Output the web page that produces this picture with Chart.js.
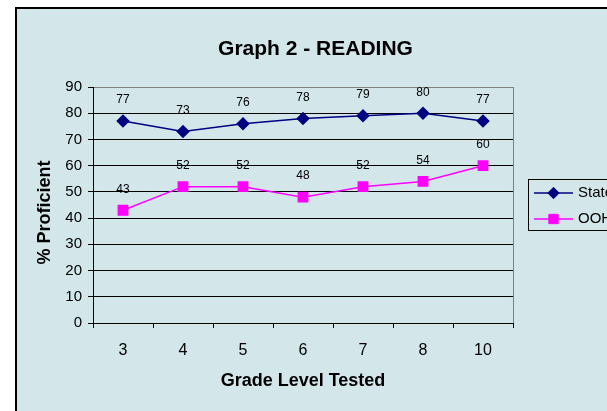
<!DOCTYPE html>
<html>
<head>
<meta charset="utf-8">
<script src="https://cdn.jsdelivr.net/npm/chart.js@4/dist/chart.umd.min.js"></script>
<style>
  html, body { margin: 0; padding: 0; background: #ffffff; overflow: hidden; }
  #wrap { position: absolute; left: 0; top: 0; width: 607px; height: 411px; }
</style>
</head>
<body>
<div id="wrap"><canvas id="c" width="607" height="411"></canvas></div>
<script>
const titleText = "Graph 2 - READING";
const xTitle = "Grade Level Tested";
const yTitle = "% Proficient";
const categories = ["3", "4", "5", "6", "7", "8", "10"];
const stateValues = [77, 73, 76, 78, 79, 80, 77];
const oohValues = [43, 52, 52, 48, 52, 54, 60];
const seriesNames = ["State", "OOH"];

const BG = "#d3e7eb";
const NAVY = "#000080";
const MAGENTA = "#ff00ff";
const FONT = "'Liberation Sans', Arial, sans-serif";

const framePlugin = {
  id: "frame",
  beforeDraw(chart) {
    const ctx = chart.ctx;
    ctx.save();
    ctx.fillStyle = "#ffffff";
    ctx.fillRect(0, 0, chart.width, chart.height);
    ctx.fillStyle = BG;
    ctx.fillRect(15, 7, chart.width, chart.height);
    ctx.strokeStyle = "#000000";
    ctx.lineWidth = 2;
    ctx.beginPath();
    ctx.moveTo(16, chart.height + 5);
    ctx.lineTo(16, 8);
    ctx.lineTo(chart.width + 5, 8);
    ctx.stroke();
    // chart title
    ctx.fillStyle = "#000000";
    ctx.font = "bold 21px " + FONT;
    ctx.textAlign = "center";
    ctx.textBaseline = "alphabetic";
    ctx.fillText(titleText, 315.5, 55);
    // y axis title
    ctx.save();
    ctx.translate(45.5, 212.5);
    ctx.rotate(-Math.PI / 2);
    ctx.font = "bold 18px " + FONT;
    ctx.textAlign = "center";
    ctx.textBaseline = "middle";
    ctx.fillText(yTitle, 0, 0);
    ctx.restore();
    ctx.restore();
  },
  beforeDatasetsDraw(chart) {
    const ctx = chart.ctx;
    const a = chart.chartArea;
    ctx.save();
    ctx.strokeStyle = "#808080";
    ctx.lineWidth = 1;
    ctx.beginPath();
    ctx.moveTo(Math.round(a.right) + 0.5, a.bottom);
    ctx.lineTo(Math.round(a.right) + 0.5, a.top);
    ctx.stroke();
    ctx.restore();
  },
  afterDatasetsDraw(chart) {
    const ctx = chart.ctx;
    ctx.save();
    ctx.fillStyle = "#000000";
    ctx.font = "12px " + FONT;
    ctx.textAlign = "center";
    ctx.textBaseline = "middle";
    chart.data.datasets.forEach((ds, i) => {
      const meta = chart.getDatasetMeta(i);
      meta.data.forEach((pt, j) => {
        ctx.fillText(String(ds.data[j]), pt.x, pt.y - 21);
      });
    });
    ctx.restore();
  },
  afterDraw(chart) {
    // legend
    const ctx = chart.ctx;
    ctx.save();
    ctx.fillStyle = BG;
    ctx.fillRect(528.5, 179.5, 120, 51);
    ctx.strokeStyle = "#000000";
    ctx.lineWidth = 1;
    ctx.strokeRect(528.5, 179.5, 120, 51);
    const rows = [193, 219];
    chart.data.datasets.forEach((ds, i) => {
      const y = rows[i];
      ctx.strokeStyle = ds.borderColor;
      ctx.lineWidth = 1.5;
      ctx.beginPath();
      ctx.moveTo(534, y);
      ctx.lineTo(573, y);
      ctx.stroke();
      ctx.fillStyle = ds.pointBackgroundColor;
      ctx.strokeStyle = ds.pointBorderColor;
      ctx.lineWidth = 1;
      Chart.helpers.drawPoint(ctx, {
        pointStyle: ds.pointStyle,
        radius: ds.pointRadius,
        borderWidth: 1
      }, 553.5, y);
      ctx.fillStyle = "#000000";
      ctx.font = "15px " + FONT;
      ctx.textAlign = "left";
      ctx.textBaseline = "middle";
      ctx.fillText(ds.label, 578, y);
    });
    ctx.restore();
  }
};

new Chart(document.getElementById("c"), {
  type: "line",
  data: {
    labels: categories,
    datasets: [
      {
        label: seriesNames[0],
        data: stateValues,
        borderColor: NAVY,
        backgroundColor: NAVY,
        pointBackgroundColor: NAVY,
        pointBorderColor: NAVY,
        pointStyle: "rectRot",
        pointRadius: 5.7,
        borderWidth: 1.5,
        tension: 0
      },
      {
        label: seriesNames[1],
        data: oohValues,
        borderColor: MAGENTA,
        backgroundColor: MAGENTA,
        pointBackgroundColor: MAGENTA,
        pointBorderColor: MAGENTA,
        pointStyle: "rect",
        pointRadius: 6.6,
        borderWidth: 1.5,
        tension: 0
      }
    ]
  },
  options: {
    responsive: false,
    animation: false,
    events: [],
    layout: { padding: { left: 17, top: 87, right: 94, bottom: 0 } },
    plugins: {
      legend: { display: false },
      title: { display: false },
      tooltip: { enabled: false }
    },
    scales: {
      x: {
        type: "category",
        offset: true,
        afterFit(scale) { scale.height = 88; },
        grid: {
          offset: true,
          drawOnChartArea: false,
          drawTicks: true,
          tickLength: 5,
          tickColor: "#000000",
          tickWidth: 1
        },
        border: { display: true, color: "#000000", width: 1 },
        ticks: {
          color: "#000000",
          font: { family: FONT, size: 16 },
          padding: 13,
          maxRotation: 0
        },
        title: {
          display: true,
          text: xTitle,
          color: "#000000",
          font: { family: FONT, size: 18, weight: "bold" },
          padding: { top: 0, bottom: 19 }
        }
      },
      y: {
        min: 0,
        max: 90,
        afterFit(scale) { scale.width = 76; },
        grid: {
          color: (c) => (c.tick && c.tick.value === 90 ? "#808080" : "#000000"),
          lineWidth: 1,
          drawTicks: true,
          tickLength: 5,
          tickColor: "#000000"
        },
        border: { display: true, color: "#000000", width: 1 },
        ticks: {
          stepSize: 10,
          color: "#000000",
          font: { family: FONT, size: 15 },
          padding: 6
        },
        title: { display: false }
      }
    }
  },
  plugins: [framePlugin]
});
</script>
</body>
</html>
